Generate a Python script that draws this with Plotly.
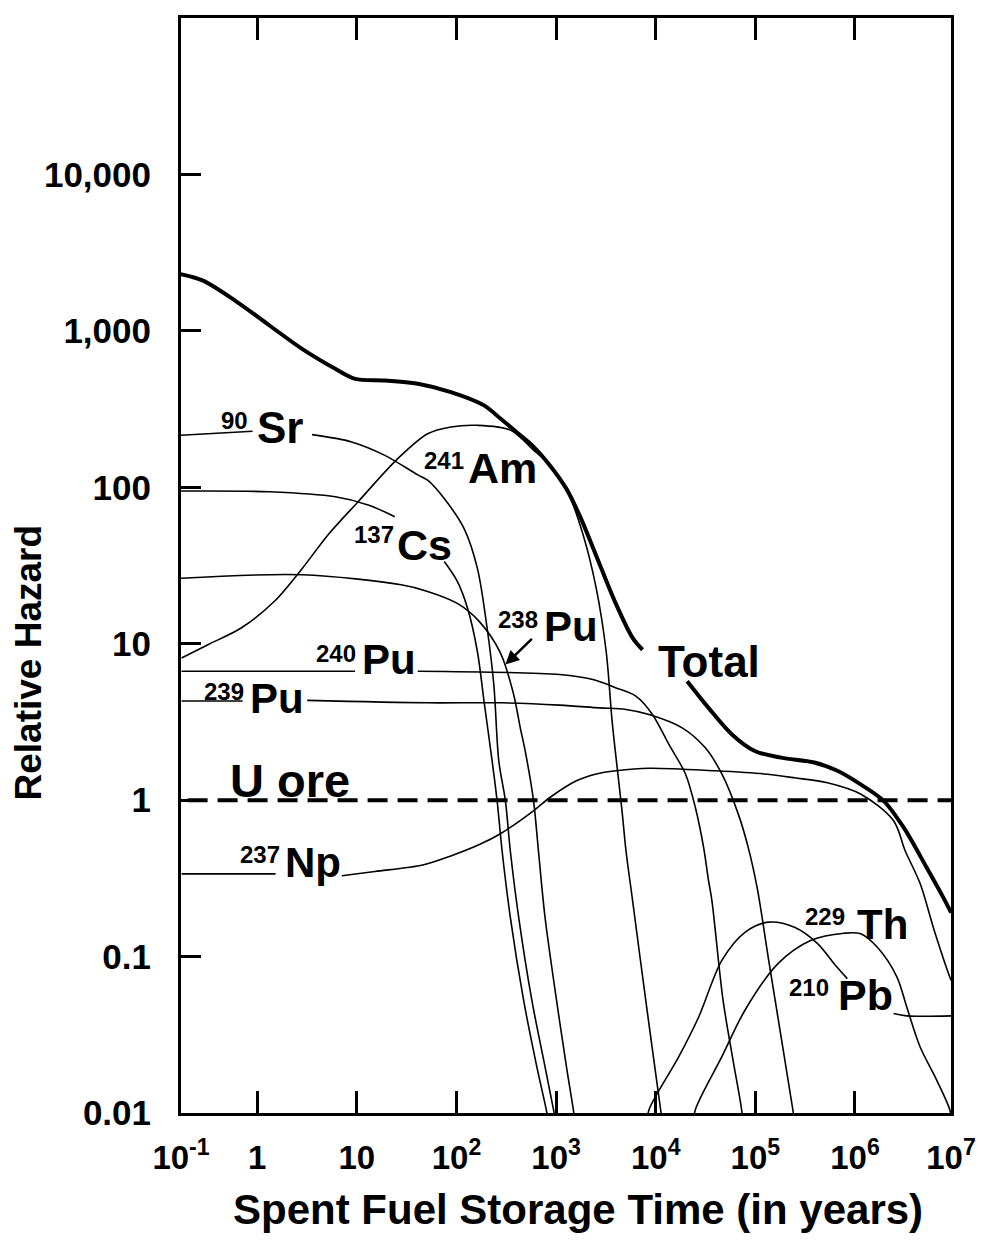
import plotly.graph_objects as go

# ---------------- data (years, relative hazard) ----------------
total_t = [0.171, 0.286, 0.614, 1.32, 2.82, 6.07, 9.6, 19.1, 40.9, 87.8, 189, 276, 405, 592, 867,
           1270, 1730, 2730, 4000, 5860, 7380, None, 20700, 33900, 57900, 98800, 182000, 391000, 667000,
           1.14e6, 1.94e6, 3.08e6, 5.24e6, 7.69e6, 9.23e6]
total_v = [2306, 2094, 1545, 1086, 767, 572, 493, 482, 459, 406, 334, 275, 224, 182, 138,
           97.7, 65.6, 32.3, 17.9, 10.9, 9.15, None, 5.76, 3.89, 2.64, 2.06, 1.87, 1.74, 1.54,
           1.26, 0.99, 0.669, 0.371, 0.239, 0.191]

sr90_t = [0.171, 0.898, None, 3.55, 8.87, 19.1, 40.9, 51.4, 75, 119, 162, 203, 237, 266, 310, 347, 421,
          571, 774, 951, 1010]
sr90_v = [215, 228, None, 217, 195, 160, 120, 111, 85, 54.6, 30.4, 12.6, 5.49, 1.78, 0.99, 0.475, 0.179,
          0.0526, 0.0198, 0.0102, 0.0084]

cs137_t = [0.171, 1.32, 6.07, 13.0, 24.0, None, 75.5, 102, 129, 162, 189, 228, 256, 287, 347, 472, 640,
           804, 842]
cs137_v = [94.6, 93.6, 86.9, 77.1, 64.9, None, 33.5, 25.0, 16.9, 8.95, 4.30, 1.78, 0.99, 0.475, 0.179,
           0.0526, 0.0198, 0.0102, 0.0084]

am241_t = [0.174, 0.320, 0.689, 1.48, 2.82, 5.20, 10.3, 25.9, 51.4, 87.8, 162, 347, 593, 740, 1260, 1870,
           2530, 3180, 3650, 4000, 4590, 5030, 5860, 7940, 11200, 11750]
am241_v = [8.11, 9.86, 12.6, 18.6, 30.2, 50.1, 80.9, 153, 220, 243, 249, 232, 173, 153, 98.3, 49.6,
           22.6, 8.95, 3.20, 1.86, 0.855, 0.475, 0.228, 0.0526, 0.0105, 0.0084]

pu238_t = [0.171, 2.82, 27.9, 51.4, 102, 169, 276, 375, 437, 490, 594, 665, 774, 1010, 1270, 1500, 1560]
pu238_v = [26.2, 27.6, 23.8, 21.6, 18.1, 13.9, 8.75, 4.74, 2.90, 2.06, 0.99, 0.475, 0.179, 0.0526,
           0.0198, 0.0102, 0.0084]

pu240_t = [0.174, 9.6, None, 40.9, 1090, 2340, 4000, 6320, 9270, 13560, 19890, 25000, 30250, 33900,
           36640, 47420, 59700, 72900, 75160]
pu240_v = [6.67, 6.67, None, 6.67, 6.35, 5.90, 5.22, 4.62, 3.53, 2.27, 1.47, 0.897, 0.499, 0.306,
           0.228, 0.0526, 0.0218, 0.01045, 0.0084]

pu239_t = [0.174, 0.714, None, 3.17, 51.4, 276, 1090, 2730, 5030, 8570, 18450, 31480, 46130, 67450,
           84800, 104700, 136200, 183600, 237800, 250000]
pu239_v = [4.30, 4.30, None, 4.34, 4.19, 4.19, 4.05, 3.89, 3.80, 3.53, 2.90, 2.16, 1.47, 0.814,
           0.499, 0.272, 0.0946, 0.0292, 0.0105, 0.0084]

np237_t = [0.174, 1.53, None, 7.06, 15.2, 45.9, 87.8, 170, 276, 593, 867, 1600, 2530, 4000, 8570, 39540,
           124500, 247300, 529900, 1.15e6, 2.44e6, 3.19e6, 4.51e6, 6.25e6, 8.95e6, 9.23e6]
np237_v = [0.338, 0.338, None, 0.329, 0.350, 0.385, 0.440, 0.520, 0.610, 0.855, 1.04, 1.33, 1.47, 1.54,
           1.60, 1.54, 1.47, 1.39, 1.29, 1.09, 0.738, 0.475, 0.293, 0.147, 0.074, 0.0705]

pb210_t = [8130, 8570, 17060, 27000, 46130, 78700, 134300, 247300, 421700, 618000, 837500, None,
           2.44e6, 3.31e6, 9.23e6]
pb210_v = [0.0084, 0.0105, 0.0229, 0.0411, 0.0946, 0.143, 0.166, 0.154, 0.121, 0.0901, 0.0723, None,
           0.0433, 0.0418, 0.0418]

th229_t = [23880, 25000, 46130, 78700, 168800, 363100, 777600, 1.14e6, 1.67e6, 2.64e6, 3.31e6, 4.50e6,
           6.59e6, 8.95e6, 9.5e6]
th229_v = [0.0084, 0.0105, 0.0229, 0.0454, 0.0901, 0.127, 0.141, 0.140, 0.115, 0.0740, 0.0476, 0.0265,
           0.0163, 0.0105, 0.0084]

uore_t = [0.1, 1e7]
uore_v = [1, 1]

y_tickvals = [0.01, 0.1, 1, 10, 100, 1000, 10000]
y_ticktext = ["0.01", "0.1", "1", "10", "100", "1,000", "10,000"]
x_ticktext = ["10<sup>-1</sup>", "1", "10", "10<sup>2</sup>", "10<sup>3</sup>", "10<sup>4</sup>",
              "10<sup>5</sup>", "10<sup>6</sup>", "10<sup>7</sup>"]

# ---------------- figure ----------------
FONT = "Liberation Sans, Arial, Helvetica, sans-serif"
fig = go.Figure()


def add_curve(t, v, width=1.6, dash=None):
    fig.add_trace(go.Scatter(
        x=t, y=v, mode="lines", connectgaps=False, hoverinfo="skip", showlegend=False,
        line=dict(color="black", width=width, shape="spline", smoothing=0.9, dash=dash)))


for t, v in [(sr90_t, sr90_v), (cs137_t, cs137_v), (am241_t, am241_v), (pu238_t, pu238_v),
             (pu240_t, pu240_v), (pu239_t, pu239_v), (np237_t, np237_v), (pb210_t, pb210_v),
             (th229_t, th229_v)]:
    add_curve(t, v)
add_curve(total_t, total_v, width=4)
fig.add_trace(go.Scatter(x=uore_t, y=uore_v, mode="lines", hoverinfo="skip", showlegend=False,
                         line=dict(color="black", width=4, dash="20px,10px")))

# labels: (text, log10 x, log10 y, size)
labels = [
    ("Sr", -0.013, 2.382, 44), ("90", -0.378, 2.427, 24),
    ("Am", 2.109, 2.121, 43), ("241", 1.662, 2.172, 24),
    ("Cs", 1.393, 1.630, 43), ("137", 0.965, 1.697, 24),
    ("Pu", 2.873, 1.108, 42), ("238", 2.408, 1.156, 24),
    ("Pu", 1.045, 0.901, 42), ("240", 0.584, 0.936, 24),
    ("Pu", -0.080, 0.652, 42), ("239", -0.547, 0.697, 24),
    ("Np", 0.269, -0.400, 42), ("237", -0.179, -0.349, 24),
    ("U ore", -0.279, 0.123, 47),
    ("Total", 4.010, 0.885, 44),
    ("Th", 6.007, -0.795, 42), ("229", 5.493, -0.744, 24),
    ("Pb", 5.824, -1.247, 43), ("210", 5.326, -1.196, 24),
]
annotations = []
for text, lx, ly, size in labels:
    annotations.append(dict(text=text, x=lx, y=ly, xref="x", yref="y", xanchor="left", yanchor="middle",
                            showarrow=False, borderpad=0,
                            font=dict(family=FONT, size=size, color="black", weight="bold")))

# arrow pointing to the 238Pu curve
annotations.append(dict(text="", x=2.491, y=0.867, xref="x", yref="y", showarrow=True, ax=28, ay=-27,
                        arrowhead=2, arrowsize=1.1, arrowwidth=2.5, arrowcolor="black", standoff=0))

# axis titles
annotations.append(dict(text="Spent Fuel Storage Time (in years)", x=0.515, y=-0.088, xref="paper",
                        yref="paper", xanchor="center", yanchor="middle", showarrow=False,
                        font=dict(family=FONT, size=42, color="black", weight="bold")))
annotations.append(dict(text="Relative Hazard", x=-0.198, y=0.411, xref="paper", yref="paper",
                        xanchor="center", yanchor="middle", showarrow=False, textangle=-90,
                        font=dict(family=FONT, size=37, color="black", weight="bold")))

# the page body has an 8px default margin: shrink the figure so the plot area sits where the
# reference has it (plot area 181..958 x 15..1113 in the 991x1257 window)
XMIN, XMAX = -0.765, 6.964
fig.update_layout(
    width=975, height=1241,
    margin=dict(l=173, r=25, t=7, b=136),
    paper_bgcolor="white", plot_bgcolor="white",
    showlegend=False,
    annotations=annotations,
    xaxis=dict(type="log", range=[XMIN, XMAX],
               tickvals=[10 ** XMIN, 1, 10, 100, 1e3, 1e4, 1e5, 1e6, 10 ** XMAX], ticktext=x_ticktext,
               ticks="inside", ticklen=22, tickwidth=3, tickcolor="black",
               showline=True, linewidth=3, linecolor="black", mirror="ticks",
               showgrid=False, zeroline=False, ticklabelstandoff=13,
               tickfont=dict(family=FONT, size=33, color="black", weight="bold")),
    yaxis=dict(type="log", range=[-2, 5], tickvals=y_tickvals, ticktext=y_ticktext,
               ticks="inside", ticklen=20, tickwidth=3, tickcolor="black",
               showline=True, linewidth=3, linecolor="black", mirror=True,
               showgrid=False, zeroline=False, ticklabelstandoff=20,
               tickfont=dict(family=FONT, size=35, color="black", weight="bold")),
)

fig.write_html("out.html")
